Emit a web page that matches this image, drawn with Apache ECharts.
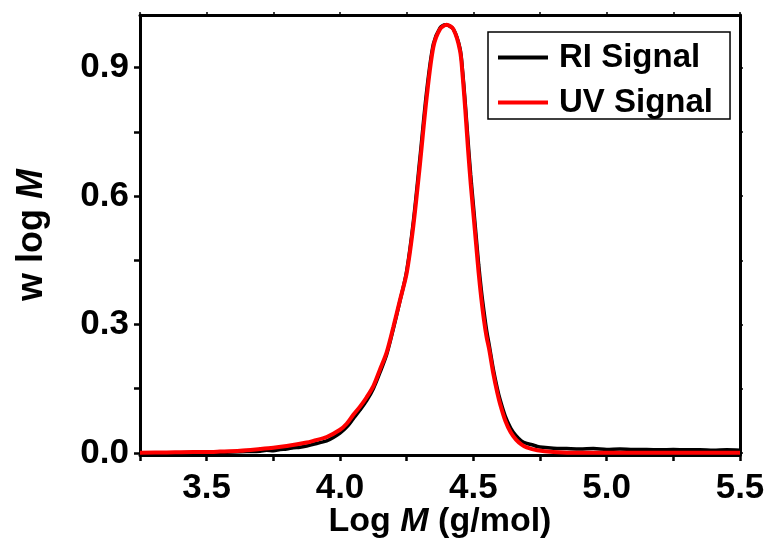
<!DOCTYPE html>
<html>
<head>
<meta charset="utf-8">
<script src="https://cdn.jsdelivr.net/npm/echarts@6/dist/echarts.min.js"></script>
<style>
  html, body { margin: 0; padding: 0; background: #fff; }
  #chart { width: 768px; height: 541px; }
</style>
</head>
<body>
<div id="chart"></div>
<script>
// RI signal (black)
var riLogM = [3.25, 3.35, 3.45, 3.5, 3.55, 3.6, 3.65, 3.7, 3.725, 3.75, 3.775, 3.8, 3.825, 3.85, 3.875,
  3.9, 3.925, 3.95, 3.975, 4.0, 4.025, 4.05, 4.075, 4.1, 4.125, 4.15, 4.175, 4.2, 4.225, 4.25,
  4.275, 4.3, 4.325, 4.35, 4.375, 4.395, 4.425, 4.45, 4.46, 4.47, 4.48, 4.49, 4.5, 4.51, 4.52,
  4.53, 4.54, 4.55, 4.56, 4.575, 4.59, 4.6, 4.62, 4.64, 4.66, 4.68, 4.7, 4.72, 4.74, 4.76,
  4.8, 4.85, 4.9, 4.95, 5.0, 5.05, 5.1, 5.15, 5.2, 5.25, 5.3, 5.35, 5.4, 5.45, 5.5];
var riSignal = [0.000, 0.000, 0.001, 0.000, 0.001, 0.002, 0.003, 0.004, 0.006, 0.005, 0.008, 0.009, 0.012, 0.013, 0.016,
  0.020, 0.024, 0.028, 0.036, 0.046, 0.060, 0.080, 0.100, 0.122, 0.150, 0.188, 0.230, 0.290, 0.355, 0.425,
  0.540, 0.690, 0.845, 0.955, 0.993, 1.000, 0.990, 0.945, 0.890, 0.815, 0.730, 0.650, 0.580, 0.510, 0.440,
  0.380, 0.330, 0.285, 0.250, 0.195, 0.150, 0.125, 0.085, 0.058, 0.040, 0.028, 0.022, 0.019, 0.015, 0.013,
  0.011, 0.010, 0.009, 0.010, 0.008, 0.009, 0.008, 0.008, 0.007, 0.008, 0.007, 0.007, 0.006, 0.007, 0.006];

// UV signal (red)
var uvLogM = [3.25, 3.35, 3.45, 3.5, 3.55, 3.625, 3.7, 3.75, 3.8, 3.875, 3.9, 3.95, 4.0, 4.025, 4.05,
  4.075, 4.1, 4.125, 4.15, 4.175, 4.2, 4.225, 4.25, 4.275, 4.3, 4.325, 4.35, 4.375, 4.4, 4.425,
  4.45, 4.46, 4.47, 4.48, 4.49, 4.5, 4.51, 4.52, 4.53, 4.54, 4.55, 4.56, 4.575, 4.59, 4.6,
  4.62, 4.64, 4.66, 4.68, 4.7, 4.74, 4.8, 4.9, 5.0, 5.5];
var uvSignal = [0.000, 0.001, 0.002, 0.002, 0.003, 0.005, 0.009, 0.012, 0.016, 0.024, 0.028, 0.037, 0.054, 0.068, 0.089,
  0.108, 0.130, 0.156, 0.195, 0.235, 0.294, 0.357, 0.420, 0.530, 0.675, 0.830, 0.948, 0.990, 1.000, 0.990,
  0.940, 0.880, 0.800, 0.710, 0.630, 0.560, 0.490, 0.420, 0.360, 0.310, 0.270, 0.240, 0.185, 0.140, 0.115,
  0.075, 0.048, 0.031, 0.020, 0.013, 0.006, 0.002, 0.000, 0.000, 0.000];

var xTicks = [3.25, 3.5, 3.75, 4.0, 4.25, 4.5, 4.75, 5.0, 5.25, 5.5];
var xLabels = [3.5, 4.0, 4.5, 5.0, 5.5];
var yTicks = [0, 0.15, 0.3, 0.45, 0.6, 0.75, 0.9];
var yLabels = [0, 0.3, 0.6, 0.9];

function pairs(xs, ys) {
  return xs.map(function (x, i) { return [x, ys[i]]; });
}

var font = "'Liberation Sans', Arial, sans-serif";
var chart = echarts.init(document.getElementById('chart'));

var labelStyle = {
  fontFamily: font, fontSize: 35, fontWeight: 'bold', color: '#000'
};

function titleRich(size) {
  return {
    a: { fontFamily: font, fontSize: size, fontWeight: 'bold', color: '#000' },
    b: { fontFamily: font, fontSize: size, fontWeight: 'bold', fontStyle: 'italic', color: '#000' }
  };
}

chart.setOption({
  animation: false,
  grid: { left: 140, right: 28, top: 15, bottom: 86, outerBoundsMode: 'none', containLabel: false },
  legend: {
    orient: 'vertical',
    left: 488,
    top: 32,
    padding: [9, 17, 0, 10],
    itemGap: 12,
    itemWidth: 50,
    itemHeight: 4,
    borderColor: '#000',
    borderWidth: 1.5,
    borderRadius: 0,
    icon: 'rect',
    textStyle: {
      fontFamily: font, fontSize: 33, fontWeight: 'bold', color: '#000',
      lineHeight: 32, padding: [0, 0, 0, 6]
    },
    data: ['RI Signal', 'UV Signal']
  },
  xAxis: [{
    type: 'value',
    min: 3.25,
    max: 5.5,
    name: '{a|Log }{b|M}{a| (g/mol)}',
    nameLocation: 'middle',
    nameGap: 50,
    nameMoveOverlap: false,
    nameTextStyle: { rich: titleRich(34) },
    axisLine: { onZero: false, lineStyle: { color: '#000', width: 3 } },
    axisTick: { customValues: xTicks, length: 6, lineStyle: { color: '#000', width: 2.5 } },
    axisLabel: Object.assign({
      customValues: xLabels,
      margin: 16,
      formatter: function (v) { return v.toFixed(1); }
    }, labelStyle),
    splitLine: { show: false }
  }, {
    type: 'value',
    position: 'top',
    min: 3.25,
    max: 5.5,
    axisLine: { onZero: false, lineStyle: { color: '#000', width: 3 } },
    axisTick: { customValues: xTicks, length: 3, lineStyle: { color: '#000', width: 1.5 } },
    axisLabel: { show: false },
    splitLine: { show: false }
  }],
  yAxis: [{
    type: 'value',
    min: -0.005,
    max: 1.023,
    name: '{a|w log }{b|M}',
    nameLocation: 'middle',
    nameGap: 90,
    nameMoveOverlap: false,
    nameTextStyle: { rich: titleRich(36) },
    axisLine: { onZero: false, lineStyle: { color: '#000', width: 3 } },
    axisTick: { customValues: yTicks, length: 6, lineStyle: { color: '#000', width: 2.5 } },
    axisLabel: Object.assign({
      customValues: yLabels,
      margin: 11,
      formatter: function (v) { return v.toFixed(1); }
    }, labelStyle),
    splitLine: { show: false }
  }, {
    type: 'value',
    position: 'right',
    min: -0.005,
    max: 1.023,
    axisLine: { onZero: false, lineStyle: { color: '#000', width: 3 } },
    axisTick: { customValues: yTicks, length: 3, lineStyle: { color: '#000', width: 1.5 } },
    axisLabel: { show: false },
    splitLine: { show: false }
  }],
  series: [{
    name: 'RI Signal',
    type: 'line',
    data: pairs(riLogM, riSignal),
    showSymbol: false,
    smooth: 0.3,
    itemStyle: { color: '#000' },
    lineStyle: { color: '#000', width: 3.5 }
  }, {
    name: 'UV Signal',
    type: 'line',
    data: pairs(uvLogM, uvSignal),
    showSymbol: false,
    smooth: 0.3,
    itemStyle: { color: '#ff0000' },
    lineStyle: { color: '#ff0000', width: 4 }
  }]
});
</script>
</body>
</html>
